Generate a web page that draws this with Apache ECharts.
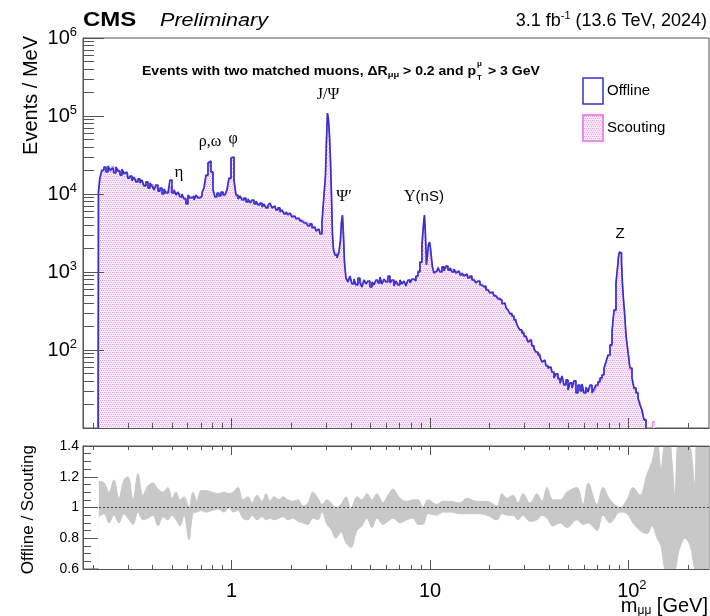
<!DOCTYPE html>
<html><head><meta charset="utf-8">
<script src="https://cdn.jsdelivr.net/npm/echarts@6.0.0/dist/echarts.min.js"></script>
<style>html,body{margin:0;padding:0;background:#fff}#c{width:710px;height:616px}</style>
</head><body><div id="c"></div>
<script>
// ---- data ----
const mass = [0.212,
0.214,0.219,0.224,0.230,0.235,0.241,0.246,0.252,0.258,0.264,
0.270,0.277,0.283,0.290,0.296,0.303,0.311,0.318,0.325,0.333,
0.341,0.349,0.357,0.365,0.374,0.383,0.392,0.401,0.410,0.420,
0.430,0.440,0.451,0.461,0.472,0.483,0.494,0.506,0.518,0.530,
0.542,0.555,0.568,0.581,0.595,0.609,0.623,0.638,0.653,0.668,
0.684,0.700,0.717,0.733,0.751,0.768,0.777,0.796,0.814,0.833,
0.853,0.873,0.894,0.915,0.937,0.958,0.981,1.004,1.016,1.039,
1.064,1.089,1.114,1.140,1.167,1.195,1.223,1.251,1.281,1.311,
1.342,1.373,1.406,1.439,1.472,1.507,1.542,1.578,1.615,1.653,
1.692,1.732,1.773,1.814,1.857,1.901,1.945,1.991,2.037,2.085,
2.134,2.184,2.236,2.288,2.342,2.397,2.453,2.511,2.570,2.630,
2.692,2.755,2.820,2.886,2.954,2.988,3.023,3.058,3.094,3.130,
3.167,3.204,3.241,3.279,3.356,3.435,3.515,3.556,3.598,3.640,
3.682,3.725,3.813,3.902,3.993,4.087,4.183,4.281,4.382,4.485,
4.590,4.698,4.808,4.921,5.037,5.155,5.276,5.400,5.527,5.657,
5.789,5.925,6.064,6.207,6.353,6.502,6.655,6.811,6.971,7.135,
7.302,7.474,7.649,7.829,8.013,8.201,8.394,8.591,8.793,9.000,
9.211,9.319,9.428,9.538,9.649,9.762,9.876,9.991,10.11,10.23,
10.35,10.59,10.84,11.09,11.35,11.62,11.89,12.17,12.46,12.75,
13.05,13.36,13.67,13.99,14.32,14.66,15.00,15.35,15.71,16.08,
16.46,16.85,17.24,17.65,18.06,18.49,18.92,19.37,19.82,20.29,
20.76,21.25,21.75,22.26,22.79,23.32,23.87,24.43,25.00,25.59,
26.19,26.81,27.44,28.08,28.74,29.42,30.11,30.82,31.54,32.28,
33.04,33.82,34.61,35.43,36.26,37.11,37.98,38.88,39.79,40.72,
41.68,42.66,43.66,44.69,45.74,46.81,47.91,49.04,50.19,51.37,
52.58,53.81,55.08,56.37,57.70,59.05,60.44,61.86,63.31,64.80,
66.32,67.88,69.47,71.11,72.78,74.49,76.24,78.03,79.86,81.74,
83.66,85.62,87.64,88.66,89.69,90.74,91.80,92.88,93.96,95.06,
96.17,98.43,100.7,103.1,105.5,108.0,110.6,113.2,115.8,118.5,
121.3,124.2,128.6,136.2];

const offline = [1,
10600,16000,20300,22200,19200,22900,20300,21500,18600,22200,
19700,17500,20900,18100,19200,16000,17000,14700,16500,14300,
15600,13800,15100,12700,14300,11900,13800,12700,11300,13000,
10900,11900,10000,11600,10300,10900,15100,10300,11300,9710,
10600,9150,10000,8630,7440,9710,8890,9430,8380,9710,
8890,9430,10300,11900,17500,25000,26500,19200,11300,9150,
10300,9430,10600,9710,10300,11300,16000,29000,29800,15100,
9710,8630,9430,8380,8890,7900,8630,7670,8380,7440,
8130,7230,7670,6810,7440,6620,7230,7670,6620,7020,
6240,6620,5880,6240,5540,5880,5380,5710,5070,5220,
4780,4930,4510,4640,4250,4380,3890,4130,3670,3780,
3360,3560,3070,4380,9710,17500,49300,109000,88900,57100,
27300,9710,2980,1920,1650,1510,1810,2570,4380,5380,
2980,1340,838,744,889,702,813,681,838,723,
642,790,702,767,642,744,681,790,723,863,
702,813,744,889,723,790,662,767,681,790,
702,767,662,790,723,813,767,889,1000,1340,
2220,4010,5380,2980,1230,1650,2220,2430,2030,1510,
1130,971,1030,1130,1000,1160,1030,1190,1060,1130,
1000,1090,971,1030,915,971,889,943,838,889,
790,838,723,767,681,642,662,588,606,538,
554,493,507,451,438,389,401,346,326,290,
273,243,229,197,181,165,151,143,127,134,
113,103,94.3,86.3,81.3,70.2,74.4,62.4,58.8,60.6,
52.2,43.8,49.3,42.5,37.8,46.4,35.6,41.3,30.7,37.8,
32.6,40.1,28.1,35.6,29.8,36.7,28.1,33.6,29.0,35.6,
28.1,31.6,35.6,38.9,43.8,47.8,58.8,70.2,86.3,116,
170,326,723,1130,1560,1810,1750,1340,681,438,
307,156,94.3,58.8,43.8,32.6,28.1,24.3,19.7,17.0,
12.7,7,4,3];

const scouting = [1,
10300,15500,19600,21000,20500,21600,19400,22400,19600,21300,
20500,18400,19800,18900,18300,16800,16300,15400,15800,15000,
14800,14400,14300,13300,13600,12500,13100,13300,11900,12400,
11400,11300,10600,11000,10800,10400,12500,10800,10700,10200,
10100,9600,9500,9000,8000,9300,9300,9000,8800,9300,
9300,9000,10700,12300,17000,24500,26000,18500,11700,9600,
9900,9800,10200,10100,9900,11600,15500,28500,29000,14500,
9300,9000,9000,8700,8500,8200,8300,8000,8000,7700,
7800,7500,7400,7100,7200,6900,7000,7400,6900,6800,
6400,6400,6100,6000,5800,5700,5600,5500,5300,5000,
4950,4750,4650,4500,4400,4250,4050,4000,3800,3700,
3450,3450,3250,4150,9300,17000,48000,108000,87000,55000,
26500,9300,3100,2050,1740,1580,1880,2480,4250,5200,
2900,1420,800,780,850,735,780,710,800,755,
670,760,735,740,670,715,710,755,750,830,
730,780,770,850,750,760,690,740,705,760,
730,740,690,760,750,790,790,860,1040,1300,
2150,3900,5250,2900,1280,1600,2300,2350,2100,1450,
1170,1000,1000,1160,1040,1120,1060,1150,1090,1100,
1030,1060,1000,1000,945,950,915,920,860,870,
815,815,745,750,700,665,645,605,590,555,
540,505,495,465,430,400,395,355,320,298,
266,248,223,202,176,170,147,146,124,137,
110,105,92,89,79,72,72,64,57,62,
51,46,47,44,36,44,37,40,32,36,
34,38,30,34,31,35,29,32,30,34,
29,30,34,40,42,49,57,72,84,112,
175,315,740,1100,1600,1780,1780,1300,700,450,
318,150,98,56,45,31,29,23,21,16,
13,8,4.5,12];

const ratioMass = [0.214,0.227,0.241,0.255,0.270,0.286,0.300,0.318,0.337,0.357,
0.378,0.401,0.425,0.451,0.477,0.500,0.524,0.549,0.575,0.609,
0.638,0.668,0.700,0.742,0.796,0.853,0.915,0.969,1.016,1.076,
1.140,1.208,1.266,1.342,1.422,1.489,1.560,1.634,1.732,1.814,
1.922,2.037,2.160,2.288,2.425,2.570,2.723,2.853,3.023,3.167,
3.356,3.556,3.770,3.993,4.281,4.537,4.808,5.096,5.400,5.789,
6.140,6.502,7.060,7.649,8.201,8.700,9.211,9.762,10.84,11.62,
12.61,14.15,15.35,17.24,19.37,21.75,23.07,24.43,26.19,27.79,
29.42,31.93,34.61,36.71,38.88,41.68,45.29,49.04,55.08,59.05,
62.73,69.47,74.49,80.90,90.74,98.43,105.5,114.5,124.3,131.7,
139.5,146.0,152.5,160.0,166.0,171.5,180.0,193.0,205.0,216.0,
225.0,255.0];
const ratioHigh = [1.17,1.16,1.10,1.18,1.06,1.18,1.20,1.05,1.22,1.08,
1.14,1.16,1.12,1.10,1.13,1.06,1.10,1.05,1.07,1.00,
1.10,1.04,1.11,1.11,1.10,1.09,1.10,1.09,1.10,1.13,
1.05,1.07,1.03,1.08,1.04,1.09,1.04,1.07,1.05,1.07,
1.05,1.04,1.05,1.01,1.03,1.10,1.06,1.02,1.05,1.03,
1.00,1.02,1.07,0.99,1.07,1.05,1.09,1.05,1.09,1.03,
1.08,1.12,1.06,1.04,1.05,1.05,1.00,1.05,1.02,1.04,
1.04,1.03,1.06,1.04,1.04,1.01,1.09,1.06,1.08,1.03,
1.09,1.03,1.09,1.04,1.13,1.05,1.05,1.10,1.13,1.02,
1.16,1.02,1.13,1.05,1.00,1.05,1.13,1.08,1.22,1.30,
1.45,1.25,1.42,1.45,1.30,1.08,1.45,1.45,1.40,1.15,
1.50,1.50];
const ratioLow = [0.94,0.96,0.90,0.95,0.90,0.96,0.93,0.89,0.97,0.92,
0.93,0.95,0.88,0.94,0.92,0.95,0.92,0.88,0.95,0.79,
0.96,0.97,0.98,0.97,0.98,0.99,0.97,1.00,0.97,0.98,
0.93,0.92,0.95,0.92,0.94,0.92,0.93,0.92,0.93,0.94,
0.92,0.93,0.91,0.90,0.89,0.93,0.92,0.97,0.89,0.86,
0.80,0.84,0.77,0.74,0.85,0.88,0.93,0.87,0.93,0.89,
0.91,0.93,0.90,0.92,0.93,0.89,0.89,0.96,0.95,0.97,
0.97,0.96,0.96,0.96,0.95,0.92,0.96,0.95,0.95,0.92,
0.95,0.91,0.92,0.95,0.93,0.88,0.90,0.87,0.92,0.89,
0.90,0.85,0.95,0.90,0.97,0.96,0.90,0.85,0.83,0.88,
0.80,0.75,0.60,0.55,0.60,0.60,0.72,0.80,0.75,0.60,
0.55,0.55];

const xMajor = [1, 10, 100];
const xMinor = [0.2,0.3,0.4,0.5,0.6,0.7,0.8,0.9,2,3,4,5,6,7,8,9,20,30,40,50,60,70,80,90,200];
const yMajor = [10, 100, 1000, 10000, 100000, 1000000];
const yLabelVals = [100, 1000, 10000, 100000, 1000000];
const yMinor = [20,30,40,50,60,70,80,90,200,300,400,500,600,700,800,900,
2000,3000,4000,5000,6000,7000,8000,9000,20000,30000,40000,50000,60000,70000,80000,90000,
200000,300000,400000,500000,600000,700000,800000,900000];

// ---- rendering ----
const FF = '"Liberation Sans", Arial, Helvetica, sans-serif';
const SERIF = '"Liberation Serif", "Times New Roman", serif';
const AX = '#555';
const XMIN = 0.178, XMAX = 255;

function pinkPattern() {
  const c = document.createElement('canvas');
  c.width = 4; c.height = 4;
  const g = c.getContext('2d');
  g.fillStyle = '#fbeafb'; g.fillRect(0, 0, 4, 4);
  g.fillStyle = '#e8a4e8';
  g.fillRect(0, 0, 1, 1); g.fillRect(2, 0, 1, 1); g.fillRect(1, 2, 1, 1); g.fillRect(3, 2, 1, 1);
  return c;
}
const pat = pinkPattern();

function xAxisDef(grid, pos, ticks, len, withLine, labels) {
  return {
    type: 'log', logBase: 10, gridIndex: grid, min: XMIN, max: XMAX, position: pos,
    axisLine: { show: withLine, lineStyle: { color: AX, width: 1 } },
    axisTick: { show: true, inside: true, length: len, customValues: ticks, lineStyle: { color: AX, width: 1 } },
    axisLabel: labels ? labels : { show: false },
    splitLine: { show: false }, minorTick: { show: false }, z: 10
  };
}

const xLabelCfg = {
  show: true, customValues: xMajor, margin: 10, color: '#000',
  formatter: v => v < 5 ? '{b|1}' : (v < 50 ? '{b|10}' : '{p|}{b|10}{s|2}'),
  rich: {
    b: { fontSize: 20, fontFamily: FF, color: '#000', lineHeight: 24 },
    s: { fontSize: 13, fontFamily: FF, color: '#000', lineHeight: 13, verticalAlign: 'top' },
    p: { width: 7 }
  }
};

const chart = echarts.init(document.getElementById('c'), null, { renderer: 'canvas' });
chart.setOption({
  animation: false,
  backgroundColor: '#fff',
  grid: [
    { left: 83, top: 38, width: 626, height: 390, show: true, borderColor: AX, borderWidth: 1, backgroundColor: 'transparent' },
    { left: 83, top: 446, width: 626, height: 123, show: true, borderColor: AX, borderWidth: 1, backgroundColor: 'transparent' }
  ],
  xAxis: [
    xAxisDef(0, 'bottom', xMajor, 10, true, null),
    xAxisDef(0, 'bottom', xMinor, 5, false, null),
    xAxisDef(1, 'bottom', xMajor, 9, true, xLabelCfg),
    xAxisDef(1, 'bottom', xMinor, 4, false, null),
    xAxisDef(1, 'top', xMajor, 9, true, null),
    xAxisDef(1, 'top', xMinor, 4, false, null)
  ],
  yAxis: [
    {
      type: 'log', logBase: 10, gridIndex: 0, min: 10, max: 1000000, position: 'left',
      axisLine: { show: true, lineStyle: { color: AX } },
      axisTick: { show: true, inside: true, length: 21, customValues: yMajor, lineStyle: { color: AX } },
      axisLabel: {
        show: true, customValues: yLabelVals, margin: 6,
        formatter: v => '{b|10}{s|' + Math.round(Math.log10(v)) + '}',
        rich: {
          b: { fontSize: 20, fontFamily: FF, color: '#000', lineHeight: 24 },
          s: { fontSize: 13, fontFamily: FF, color: '#000', lineHeight: 13, verticalAlign: 'top' }
        }
      },
      splitLine: { show: false }, z: 10
    },
    {
      type: 'log', logBase: 10, gridIndex: 0, min: 10, max: 1000000, position: 'left',
      axisLine: { show: false },
      axisTick: { show: true, inside: true, length: 11, customValues: yMinor, lineStyle: { color: AX } },
      axisLabel: { show: false }, splitLine: { show: false }, z: 10
    },
    {
      type: 'value', gridIndex: 1, min: 0.6, max: 1.4, interval: 0.2, position: 'left',
      axisLine: { show: true, lineStyle: { color: AX } },
      axisTick: { show: true, inside: true, length: 15, lineStyle: { color: AX } },
      axisLabel: {
        show: true, margin: 4, color: '#000', fontSize: 14, fontFamily: FF,
        formatter: v => Math.abs(v - 1) < 1e-6 ? '1' : v.toFixed(1)
      },
      splitLine: { show: false }, z: 10
    },
    {
      type: 'value', gridIndex: 1, min: 0.6, max: 1.4, interval: 0.05, position: 'left',
      axisLine: { show: false },
      axisTick: { show: true, inside: true, length: 8, lineStyle: { color: AX } },
      axisLabel: { show: false }, splitLine: { show: false }, z: 10
    }
  ],
  series: [
    {
      name: 'Scouting', type: 'line', xAxisIndex: 0, yAxisIndex: 0, step: 'middle',
      data: mass.map((m, i) => [m, scouting[i]]),
      symbol: 'none', showSymbol: false,
      lineStyle: { color: '#ee88ee', width: 1.4 },
      areaStyle: { color: { image: pat, repeat: 'repeat' }, origin: 'start', opacity: 1 },
      z: 2
    },
    {
      name: 'Offline', type: 'line', xAxisIndex: 0, yAxisIndex: 0, step: 'middle',
      data: mass.map((m, i) => [m, offline[i]]),
      symbol: 'none', showSymbol: false,
      lineStyle: { color: '#3333cc', width: 1.7 },
      z: 3
    },
    {
      name: 'ratioHigh', type: 'line', xAxisIndex: 2, yAxisIndex: 2, smooth: 0.35,
      data: ratioMass.map((m, i) => [m, ratioHigh[i]]),
      symbol: 'none', showSymbol: false,
      lineStyle: { color: '#c8c8c8', width: 1 },
      areaStyle: { color: '#c8c8c8', origin: 'start', opacity: 1 },
      z: 2
    },
    {
      name: 'ratioLow', type: 'line', xAxisIndex: 2, yAxisIndex: 2, smooth: 0.35,
      data: ratioMass.map((m, i) => [m, ratioLow[i]]),
      symbol: 'none', showSymbol: false,
      lineStyle: { color: '#c8c8c8', width: 1 },
      areaStyle: { color: '#ffffff', origin: 'start', opacity: 1 },
      z: 3,
      markLine: {
        silent: true, symbol: 'none', label: { show: false },
        lineStyle: { type: [2, 2], color: '#444', width: 1.2 },
        data: [{ yAxis: 1 }]
      }
    }
  ],
  graphic: [
    { type: 'text', x: 83, y: 20, scaleX: 1.2, style: { text: 'CMS', font: 'bold 20px ' + FF, fill: '#000', align: 'left', verticalAlign: 'middle', textAlign: 'left', textVerticalAlign: 'middle' } },
    { type: 'text', x: 160, y: 21, scaleX: 1.2, style: { text: 'Preliminary', font: 'italic 18px ' + FF, fill: '#000', align: 'left', verticalAlign: 'middle', textAlign: 'left', textVerticalAlign: 'middle' } },
    { type: 'text', x: 707, y: 21, style: {
        text: '{n|3.1 fb}{s|-1}{n| (13.6 TeV, 2024)}', fill: '#000', align: 'right', verticalAlign: 'middle', textAlign: 'right', textVerticalAlign: 'middle',
        rich: { n: { fontSize: 18, fontFamily: FF, lineHeight: 22 }, s: { fontSize: 11, fontFamily: FF, lineHeight: 11, verticalAlign: 'top' } } } },
    { type: 'text', x: 142, y: 72, scaleX: 1.17, style: {
        text: '{n|Events with two matched muons, ΔR}{u|μμ}{n| > 0.2 and p}', fill: '#000', align: 'left', verticalAlign: 'middle', textAlign: 'left', textVerticalAlign: 'middle',
        rich: { n: { fontSize: 12, fontWeight: 'bold', fontFamily: FF, lineHeight: 14 }, u: { fontSize: 8, fontWeight: 'bold', fontFamily: FF, lineHeight: 8, verticalAlign: 'bottom' } } } },
    { type: 'text', x: 477, y: 64, style: { text: 'μ', font: 'bold 8px ' + FF, fill: '#000', align: 'left', verticalAlign: 'middle', textAlign: 'left', textVerticalAlign: 'middle' } },
    { type: 'text', x: 477, y: 78, style: { text: 'T', font: 'bold 8px ' + FF, fill: '#000', align: 'left', verticalAlign: 'middle', textAlign: 'left', textVerticalAlign: 'middle' } },
    { type: 'text', x: 484, y: 72, scaleX: 1.17, style: { text: ' > 3 GeV', font: 'bold 12px ' + FF, fill: '#000', align: 'left', verticalAlign: 'middle', textAlign: 'left', textVerticalAlign: 'middle' } },
    // peak labels
    { type: 'text', x: 179, y: 173, style: { text: 'η', font: '17px ' + SERIF, fill: '#000', align: 'center', verticalAlign: 'middle', textAlign: 'center', textVerticalAlign: 'middle' } },
    { type: 'text', x: 210, y: 142, style: { text: 'ρ,ω', font: '16px ' + SERIF, fill: '#000', align: 'center', verticalAlign: 'middle', textAlign: 'center', textVerticalAlign: 'middle' } },
    { type: 'text', x: 233, y: 139, style: { text: 'φ', font: '16px ' + SERIF, fill: '#000', align: 'center', verticalAlign: 'middle', textAlign: 'center', textVerticalAlign: 'middle' } },
    { type: 'text', x: 328, y: 95, style: { text: 'J/Ψ', font: '16px ' + SERIF, fill: '#000', align: 'center', verticalAlign: 'middle', textAlign: 'center', textVerticalAlign: 'middle' } },
    { type: 'text', x: 344, y: 197, style: { text: 'Ψ′', font: '16px ' + SERIF, fill: '#000', align: 'center', verticalAlign: 'middle', textAlign: 'center', textVerticalAlign: 'middle' } },
    { type: 'text', x: 424, y: 197, style: {
        text: '{g|Υ}{n|(nS)}', fill: '#000', align: 'center', verticalAlign: 'middle', textAlign: 'center', textVerticalAlign: 'middle',
        rich: { g: { fontSize: 16, fontFamily: SERIF }, n: { fontSize: 15, fontFamily: FF } } } },
    { type: 'text', x: 620, y: 234, style: { text: 'Z', font: '15px ' + FF, fill: '#000', align: 'center', verticalAlign: 'middle', textAlign: 'center', textVerticalAlign: 'middle' } },
    // legend
    { type: 'rect', shape: { x: 583, y: 78, width: 20, height: 26 }, style: { fill: '#fff', stroke: '#3333cc', lineWidth: 1.5 } },
    { type: 'text', x: 607, y: 91, style: { text: 'Offline', font: '15px ' + FF, fill: '#000', align: 'left', verticalAlign: 'middle', textAlign: 'left', textVerticalAlign: 'middle' } },
    { type: 'rect', shape: { x: 583, y: 115, width: 20, height: 26 }, style: { fill: { image: pat, repeat: 'repeat' }, stroke: '#ee88ee', lineWidth: 2 } },
    { type: 'text', x: 607, y: 128, style: { text: 'Scouting', font: '15px ' + FF, fill: '#000', align: 'left', verticalAlign: 'middle', textAlign: 'left', textVerticalAlign: 'middle' } },
    // axis titles
    { type: 'text', x: 31, y: 36, rotation: Math.PI / 2, style: { text: 'Events / MeV', font: '20px ' + FF, fill: '#000', align: 'right', verticalAlign: 'middle', textAlign: 'right', textVerticalAlign: 'middle' } },
    { type: 'text', x: 28, y: 445, rotation: Math.PI / 2, style: { text: 'Offline / Scouting', font: '17px ' + FF, fill: '#000', align: 'right', verticalAlign: 'middle', textAlign: 'right', textVerticalAlign: 'middle' } },
    { type: 'text', x: 708, y: 606, style: {
        text: '{m|m}{u|μμ}{m| [GeV]}', fill: '#000', align: 'right', verticalAlign: 'middle', textAlign: 'right', textVerticalAlign: 'middle',
        rich: { m: { fontSize: 20, fontFamily: FF, lineHeight: 22 }, u: { fontSize: 12, fontFamily: FF, lineHeight: 12, verticalAlign: 'bottom' } } } }
  ]
});
</script>
</body></html>
